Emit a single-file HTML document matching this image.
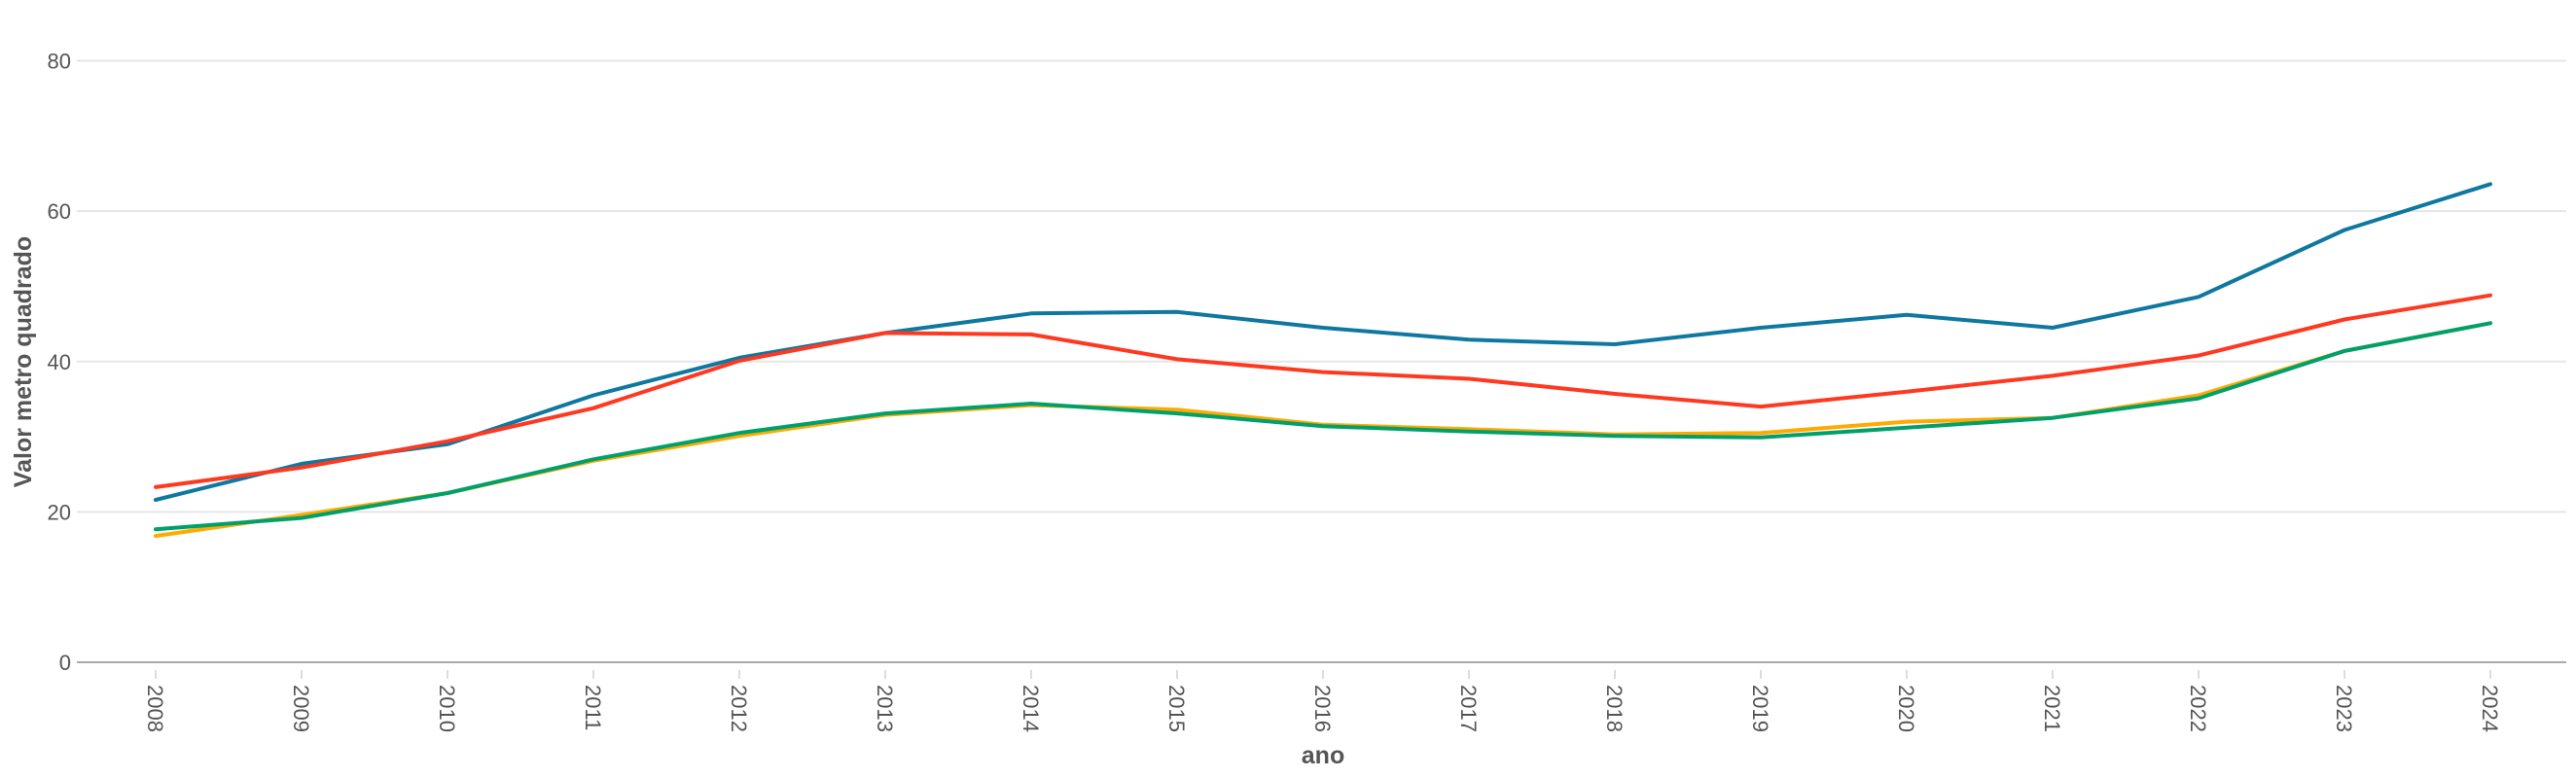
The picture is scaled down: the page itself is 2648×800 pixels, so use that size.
<!DOCTYPE html>
<html><head><meta charset="utf-8"><style>
html,body{margin:0;padding:0;background:#fff;}
svg{display:block;font-family:"Liberation Sans",sans-serif;}
</style></head><body>
<svg id="chart" width="2648" height="800">
<g id="grid"></g>
<g id="yticks"></g>
<g id="xticks"></g>
<g id="series"></g>
<text x="0" y="0" transform="translate(32,372) rotate(-90)" text-anchor="middle" font-size="25" font-weight="bold" fill="#555">Valor metro quadrado</text>
<text x="1360" y="785" text-anchor="middle" font-size="25" font-weight="bold" fill="#555">ano</text>
</svg>
<script>
const years = [2008,2009,2010,2011,2012,2013,2014,2015,2016,2017,2018,2019,2020,2021,2022,2023,2024];
const yTicks = [0,20,40,60,80];
const blueValues = [21.6,26.4,29,35.5,40.5,43.8,46.4,46.6,44.5,42.9,42.3,44.5,46.2,44.5,48.6,57.5,63.6];
const redValues = [23.3,25.9,29.4,33.8,40.1,43.8,43.6,40.3,38.6,37.7,35.7,34,36,38.1,40.8,45.6,48.8];
const orangeValues = [16.8,19.6,22.5,26.8,30.1,32.9,34.2,33.6,31.6,31,30.3,30.5,32,32.5,35.5,41.4,45.1];
const greenValues = [17.7,19.2,22.5,27,30.5,33.1,34.4,33.1,31.4,30.7,30.1,29.9,31.2,32.5,35.1,41.4,45.1];
const seriesColors = ['#0f78a0','#ff3820','#ffaa00','#00a06c'];
const seriesNames = ['line-blue','line-red','line-orange','line-green'];

const NS='http://www.w3.org/2000/svg';
const x = yr => 160 + (yr-2008)*150;
const y = v => 681 - v*(618.5/80);
function mk(tag, attrs, parent){const e=document.createElementNS(NS,tag);for(const k in attrs)e.setAttribute(k,attrs[k]);parent.appendChild(e);return e;}
const grid=document.getElementById('grid'), yt=document.getElementById('yticks'), xt=document.getElementById('xticks'), sg=document.getElementById('series');
yTicks.forEach(t=>{
  const l=mk('line',{x1:79,x2:2638,y1:y(t),y2:y(t),stroke:t===0?'#aaa':'#e6e6e6','stroke-width':2},t===0?xt:grid);
  
  
  const tx=mk('text',{x:73,y:y(t)+8,'text-anchor':'end','font-size':22,fill:'#555'},yt);
  tx.textContent=t;
  
  
});
years.forEach(yr=>{
  const tk=mk('line',{x1:x(yr),x2:x(yr),y1:689,y2:698,stroke:'#ddd','stroke-width':2},xt);
  
  
  const tx=mk('text',{x:0,y:0,transform:`translate(${x(yr)-8},704) rotate(90)`,'font-size':22,fill:'#555'},xt);
  tx.textContent=yr;
  
  
});
[blueValues,redValues,orangeValues,greenValues].forEach((vals,i)=>{
  const pts=vals.map((v,j)=>x(years[j]).toFixed(1)+','+y(v).toFixed(1)).join(' ');
  const p=mk('polyline',{points:pts,fill:'none',stroke:seriesColors[i],'stroke-width':4,'stroke-linejoin':'round','stroke-linecap':'round'},sg);
  
  
});
</script>
</body></html>
